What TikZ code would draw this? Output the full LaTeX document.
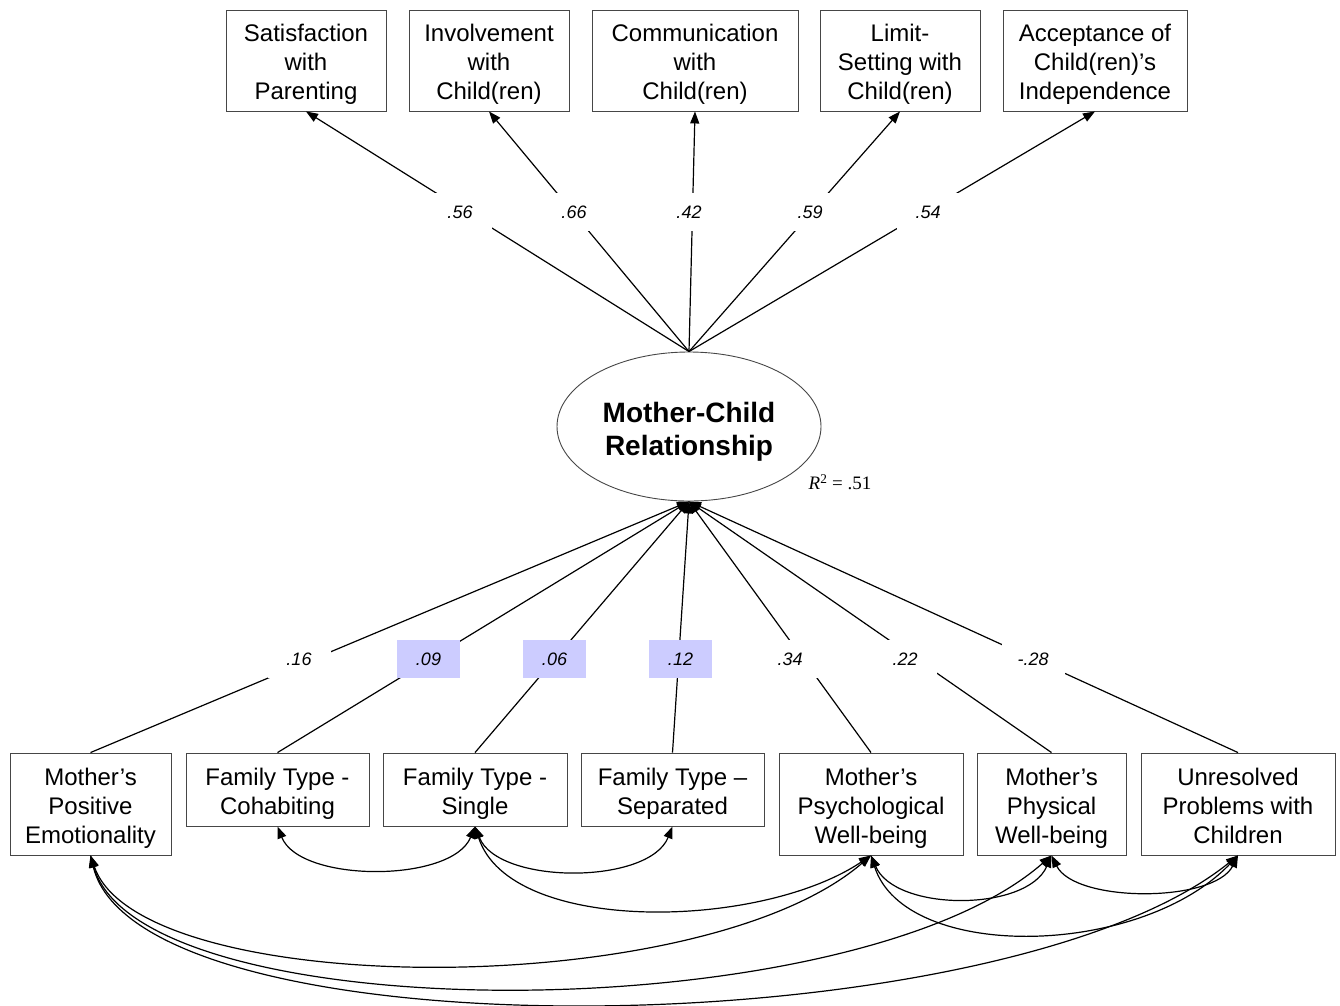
\documentclass[tikz,border=0pt]{standalone}
\usepackage{fontspec}
\setmainfont{Liberation Sans}
\newfontfamily\timesf{Liberation Serif}
\usetikzlibrary{arrows.meta,shapes.geometric}
\definecolor{lav}{RGB}{204,204,255}
\definecolor{boxline}{RGB}{70,70,70}
\newcommand\tpS{\rule{0pt}{25pt}}
\newcommand\btS{\rule[-5pt]{0pt}{5pt}}
\newcommand\tpE{\rule{0pt}{30.5pt}}
\newcommand\btE{\rule[-6pt]{0pt}{6pt}}
\begin{document}
\begin{tikzpicture}[x=1pt,y=-1pt,
 box/.style={draw=boxline, line width=0.9pt, align=center, font=\fontsize{24}{29}\selectfont, inner sep=0pt},
 lab/.style={fill=white, minimum width=63pt, minimum height=38pt, inner sep=0pt, font=\fontsize{18}{20}\selectfont\itshape},
 hl/.style={lab, fill=lav},
 tip/.tip={Triangle[length=12pt,width=9pt]},
 pathline/.style={line width=1.2pt, -tip},
 cov/.style={line width=1.2pt, tip-tip}]
\useasboundingbox (0,0) rectangle (1340,1005);

% top indicators
\node[box, minimum width=160pt, minimum height=101pt] (sat) at (306,60.5) {\tpS Satisfaction\\with\\Parenting\btS};
\node[box, minimum width=160pt, minimum height=101pt] (inv) at (489,60.5) {\tpS Involvement\\with\\Child(ren)\btS};
\node[box, minimum width=206pt, minimum height=101pt] (com) at (695,60.5) {\tpS Communication\\with\\Child(ren)\btS};
\node[box, minimum width=160pt, minimum height=101pt] (lim) at (900,60.5) {\tpS Limit-\\Setting with\\Child(ren)\btS};
\node[box, minimum width=184pt, minimum height=101pt] (acc) at (1095,60.5) {\tpS Acceptance of\\Child(ren)’s\\Independence\btS};

% latent
\node[draw=boxline, line width=0.9pt, ellipse, minimum width=264pt, minimum height=149pt, inner sep=0pt, align=center,
  font=\fontsize{28}{33}\selectfont\bfseries] (mcr) at (689,426.5) {\tpE Mother-Child\\Relationship\btE};
\node[font=\timesf\fontsize{19}{22}\selectfont] (r2) at (840,482) {\textit{R}\textsuperscript{2} = .51};

% bottom predictors
\node[box, minimum width=161pt, minimum height=102pt] (pe) at (90.5,804) {\tpS Mother’s\\Positive\\Emotionality\btS};
\node[box, minimum width=183pt, minimum height=73pt] (coh) at (277.5,789.5) {\tpS Family Type -\\Cohabiting\btS};
\node[box, minimum width=184pt, minimum height=73pt] (sin) at (475,789.5) {\tpS Family Type -\\Single\btS};
\node[box, minimum width=183pt, minimum height=73pt] (sep) at (672.5,789.5) {\tpS Family Type –\\Separated\btS};
\node[box, minimum width=184pt, minimum height=102pt] (psy) at (871,804) {\tpS Mother’s\\Psychological\\Well-being\btS};
\node[box, minimum width=149pt, minimum height=102pt] (phy) at (1051.5,804) {\tpS Mother’s\\Physical\\Well-being\btS};
\node[box, minimum width=194pt, minimum height=102pt] (unr) at (1238,804) {\tpS Unresolved\\Problems with\\Children\btS};

% loadings
\draw[pathline] (mcr.north) -- (sat.south);
\draw[pathline] (mcr.north) -- (inv.south);
\draw[pathline] (mcr.north) -- (com.south);
\draw[pathline] (mcr.north) -- (lim.south);
\draw[pathline] (mcr.north) -- (acc.south);
\node[lab] (l1) at (460,212) {.56};
\node[lab] (l2) at (574,212) {.66};
\node[lab] (l3) at (689,212) {.42};
\node[lab] (l4) at (810,212) {.59};
\node[lab] (l5) at (928,212) {.54};

% regressions
\draw[pathline] (pe.north) -- (mcr.south);
\draw[pathline] (coh.north) -- (mcr.south);
\draw[pathline] (sin.north) -- (mcr.south);
\draw[pathline] (sep.north) -- (mcr.south);
\draw[pathline] (psy.north) -- (mcr.south);
\draw[pathline] (phy.north) -- (mcr.south);
\draw[pathline] (unr.north) -- (mcr.south);
\node[lab] (b1) at (299,659) {.16};
\node[hl] (b2) at (428.5,659) {.09};
\node[hl] (b3) at (554.5,659) {.06};
\node[hl] (b4) at (680.5,659) {.12};
\node[lab] (b5) at (790,659) {.34};
\node[lab] (b6) at (905,659) {.22};
\node[lab] (b7) at (1033,659) {-.28};

% covariances
\draw[cov] (coh.south) .. controls (300,883) and (452,883) .. (sin.south);
\draw[cov] (sin.south) .. controls (498,885) and (649,885) .. (sep.south);
\draw[cov] (sin.south) .. controls (510,935) and (760,930) .. (psy.south);
\draw[cov] (psy.south) .. controls (895,912) and (1027,912) .. (phy.south);
\draw[cov] (phy.south) .. controls (1075,903) and (1214,903) .. (unr.south);
\draw[cov] (psy.south) .. controls (905,962) and (1140,958) .. (unr.south);
\draw[cov] (pe.south) .. controls (140,1000) and (700,1003) .. (psy.south);
\draw[cov] (pe.south) .. controls (140,1032) and (850,1032) .. (phy.south);
\draw[cov] (pe.south) .. controls (140,1058) and (1000,1048) .. (unr.south);
\end{tikzpicture}
\end{document}
